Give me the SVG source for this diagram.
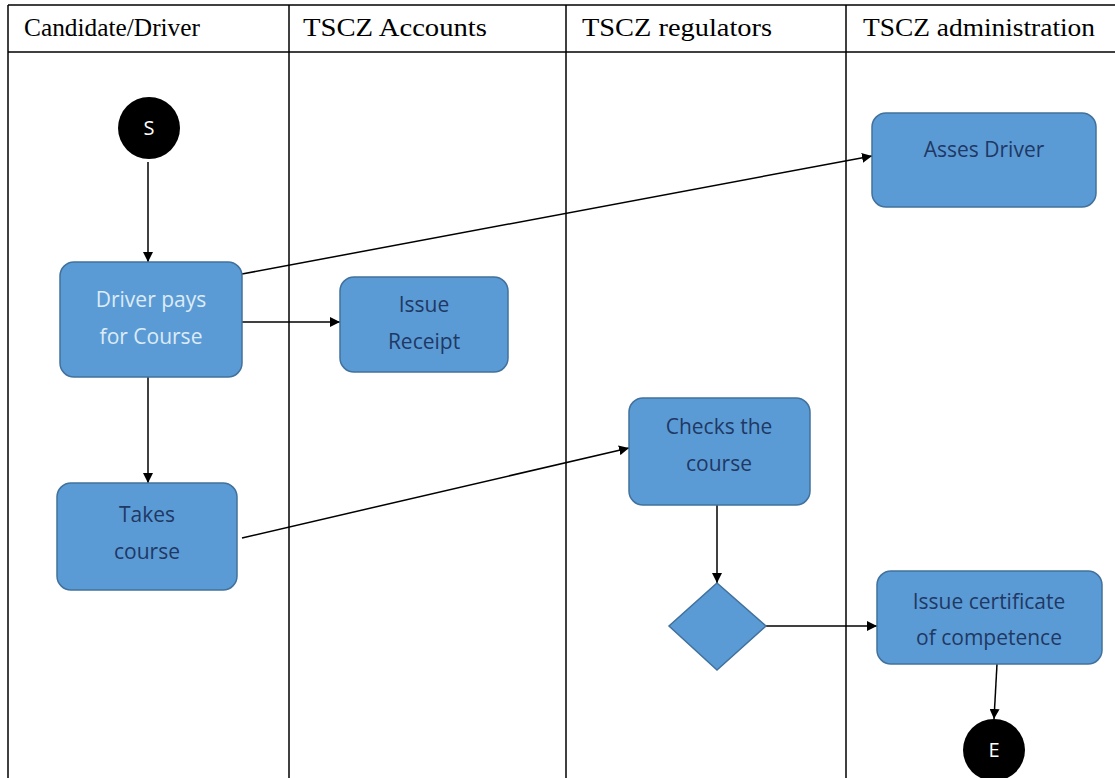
<svg xmlns="http://www.w3.org/2000/svg" width="1115" height="778" viewBox="0 0 1115 778">
<defs>
<style>
.lane{stroke:#000;stroke-width:1.5;fill:none}
.hdr{font-family:"Liberation Serif",serif;font-size:25px;fill:#000}
.box{fill:#5B9BD5;stroke:#41719C;stroke-width:1.5}
.lbl{font-family:"Open Sans","Noto Sans",sans-serif;font-size:21px;fill:#1F3864;text-anchor:middle}
.lbl.light{fill:#DDEBF7}
.term{fill:#000}
.tt{font-family:"Open Sans","Noto Sans",sans-serif;font-size:20px;fill:#fff;text-anchor:middle}
.conn{stroke:#000;stroke-width:1.5;fill:none;marker-end:url(#ah)}
</style>
<marker id="ah" viewBox="0 0 10 10" refX="10" refY="5" markerWidth="10" markerHeight="10" markerUnits="userSpaceOnUse" orient="auto">
<path d="M0,0 L10,5 L0,10 z" fill="#000"/>
</marker>
</defs>
<rect width="1115" height="778" fill="#fff"/>
<g id="lanes">
<line class="lane" x1="8" y1="5" x2="1115" y2="5"/>
<line class="lane" x1="8" y1="52" x2="1115" y2="52"/>
<line class="lane" x1="8" y1="5" x2="8" y2="778"/>
<line class="lane" x1="289" y1="5" x2="289" y2="778"/>
<line class="lane" x1="566" y1="5" x2="566" y2="778"/>
<line class="lane" x1="846" y1="5" x2="846" y2="778"/>
<text class="hdr" x="24" y="36" textLength="176" lengthAdjust="spacingAndGlyphs">Candidate/Driver</text>
<text class="hdr" x="303" y="36" textLength="184" lengthAdjust="spacingAndGlyphs">TSCZ Accounts</text>
<text class="hdr" x="582" y="36" textLength="190" lengthAdjust="spacingAndGlyphs">TSCZ regulators</text>
<text class="hdr" x="863" y="36" textLength="232" lengthAdjust="spacingAndGlyphs">TSCZ administration</text>
</g>
<g id="connectors">
<line class="conn" x1="148" y1="162" x2="148" y2="262"/>
<line class="conn" x1="242" y1="322" x2="340" y2="322"/>
<line class="conn" x1="242" y1="274" x2="872" y2="156"/>
<line class="conn" x1="148" y1="377" x2="148" y2="483"/>
<line class="conn" x1="242" y1="538" x2="629" y2="448"/>
<line class="conn" x1="717" y1="505" x2="717" y2="583"/>
<line class="conn" x1="766" y1="626" x2="877" y2="626"/>
<line class="conn" x1="997" y1="664" x2="994" y2="719"/>
</g>
<g id="start">
<circle class="term" cx="149" cy="128" r="31"/>
<text class="tt" x="149" y="135">S</text>
</g>
<g id="driver-pays">
<rect class="box" x="60" y="262" width="182" height="115" rx="14"/>
<text class="lbl light" x="151" y="307">Driver pays</text>
<text class="lbl light" x="151" y="344">for Course</text>
</g>
<g id="issue-receipt">
<rect class="box" x="340" y="277" width="168" height="95" rx="14"/>
<text class="lbl" x="424" y="312">Issue</text>
<text class="lbl" x="424" y="349">Receipt</text>
</g>
<g id="asses-driver">
<rect class="box" x="872" y="113" width="224" height="94" rx="14"/>
<text class="lbl" x="984" y="157">Asses Driver</text>
</g>
<g id="takes-course">
<rect class="box" x="57" y="483" width="180" height="107" rx="14"/>
<text class="lbl" x="147" y="522">Takes</text>
<text class="lbl" x="147" y="559">course</text>
</g>
<g id="checks-course">
<rect class="box" x="629" y="398" width="181" height="107" rx="14"/>
<text class="lbl" x="719" y="434">Checks the</text>
<text class="lbl" x="719" y="471">course</text>
</g>
<g id="decision">
<polygon class="box" points="717,583 766,626 717,670 669,626"/>
</g>
<g id="issue-certificate">
<rect class="box" x="877" y="571" width="225" height="93" rx="14"/>
<text class="lbl" x="989" y="609">Issue certificate</text>
<text class="lbl" x="989" y="645">of competence</text>
</g>
<g id="end">
<circle class="term" cx="994" cy="750" r="31"/>
<text class="tt" x="994" y="757">E</text>
</g>
</svg>
